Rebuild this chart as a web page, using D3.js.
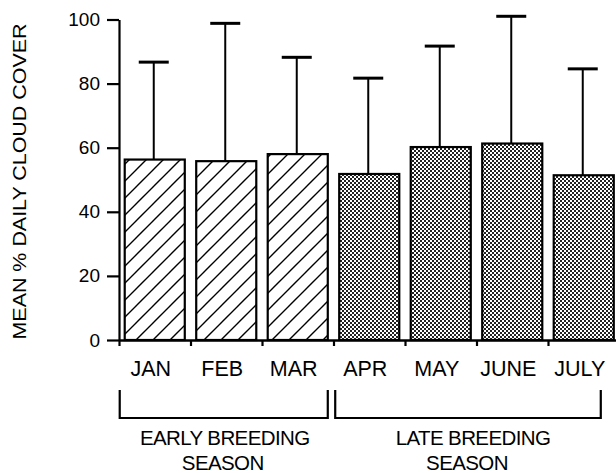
<!DOCTYPE html>
<html>
<head>
<meta charset="utf-8">
<title>Mean daily cloud cover by month</title>
<script src="https://cdn.jsdelivr.net/npm/d3@7"></script>
<style>
    body { margin: 0; background: #fff; }
    svg { display: block; }
    text { font-family: "Liberation Sans", Arial, Helvetica, sans-serif; fill: #000; }
</style>
</head>
<body>
<script>

// values
var months = ["JAN", "FEB", "MAR", "APR", "MAY", "JUNE", "JULY"];
var means = [56.3, 55.8, 58.0, 51.8, 60.2, 61.3, 51.4];
var upper = [86.7, 98.8, 88.2, 81.7, 91.7, 101.0, 84.6];
var season = ["early", "early", "early", "late", "late", "late", "late"];
var yTicks = [0, 20, 40, 60, 80, 100];
var seasonNames = [["EARLY BREEDING", "SEASON"], ["LATE BREEDING", "SEASON"]];
var seasonFirst = ["JAN", "APR"];
var seasonLast = ["MAR", "JULY"];

var width = 616, height = 473;

var svg = d3.select("body").append("svg")
    .attr("width", width)
    .attr("height", height);

var defs = svg.append("defs");

// diagonal hatch for early season
var hatch = defs.append("pattern")
    .attr("id", "hatch")
    .attr("patternUnits", "userSpaceOnUse")
    .attr("width", 17)
    .attr("height", 17);
hatch.append("rect").attr("width", 17).attr("height", 17).attr("fill", "#fff");
hatch.append("path")
    .attr("d", "M-2,19 L19,-2 M-4,4 L4,-4 M13,21 L21,13")
    .attr("stroke", "#000")
    .attr("stroke-width", 1.4);

// stipple for late season
var dots = defs.append("pattern")
    .attr("id", "dots")
    .attr("patternUnits", "userSpaceOnUse")
    .attr("width", 4)
    .attr("height", 4);
dots.append("rect").attr("width", 4).attr("height", 4).attr("fill", "#fff");
dots.append("rect").attr("width", 2).attr("height", 2).attr("fill", "#222");
dots.append("rect").attr("x", 2).attr("y", 2).attr("width", 2).attr("height", 2).attr("fill", "#222");

var x0 = 119, y0 = 340;

var y = d3.scaleLinear().domain([0, 100]).range([y0, 19.5]);

var x = d3.scaleBand()
    .domain(months)
    .range([x0, x0 + 7 * 71.5])
    .paddingInner(0.16)
    .paddingOuter(0.08);

// boundary ticks along the bottom
var xEdge = d3.scaleLinear().domain([0, months.length]).range(x.range());

var g = svg.append("g");

// bars
g.selectAll("rect.bar")
    .data(months)
    .enter().append("rect")
    .attr("class", "bar")
    .attr("x", function(d) { return x(d); })
    .attr("y", function(d, i) { return y(means[i]); })
    .attr("width", x.bandwidth())
    .attr("height", function(d, i) { return y0 - y(means[i]); })
    .attr("fill", function(d, i) { return season[i] == "early" ? "url(#hatch)" : "url(#dots)"; })
    .attr("stroke", "#000")
    .attr("stroke-width", 2.2);

// error bars
g.selectAll("line.err")
    .data(months)
    .enter().append("line")
    .attr("x1", function(d) { return x(d) + x.bandwidth() / 2 - 1; })
    .attr("x2", function(d) { return x(d) + x.bandwidth() / 2 - 1; })
    .attr("y1", function(d, i) { return y(means[i]); })
    .attr("y2", function(d, i) { return y(upper[i]); })
    .attr("stroke", "#000")
    .attr("stroke-width", 2);

g.selectAll("line.cap")
    .data(months)
    .enter().append("line")
    .attr("x1", function(d) { return x(d) + x.bandwidth() / 2 - 16; })
    .attr("x2", function(d) { return x(d) + x.bandwidth() / 2 + 14; })
    .attr("y1", function(d, i) { return y(upper[i]); })
    .attr("y2", function(d, i) { return y(upper[i]); })
    .attr("stroke", "#000")
    .attr("stroke-width", 3);

// y axis
var yAxis = svg.append("g")
    .attr("transform", "translate(" + x0 + ",0)")
    .call(d3.axisLeft(y).tickValues(yTicks).tickSize(12).tickSizeOuter(0).tickPadding(7));
yAxis.select(".domain").attr("stroke-width", 2.2);
yAxis.selectAll(".tick line").attr("stroke-width", 2.2);
yAxis.selectAll(".tick text")
    .attr("font-size", 19)
    .attr("font-family", "'Liberation Sans', Arial, sans-serif");

// x axis line and boundary ticks
var xAxis = svg.append("g")
    .attr("transform", "translate(0," + y0 + ")")
    .call(d3.axisBottom(xEdge).tickValues(d3.range(months.length + 1)).tickSize(6).tickSizeOuter(0).tickFormat(""));
xAxis.select(".domain").attr("stroke-width", 2.5);
xAxis.selectAll(".tick line").attr("stroke-width", 2.2);

// month labels
var xLab = svg.append("g")
    .attr("transform", "translate(-4," + y0 + ")")
    .call(d3.axisBottom(x).tickSize(0).tickPadding(21));
xLab.select(".domain").remove();
xLab.selectAll(".tick text")
    .attr("font-size", 21.5)
    .attr("font-family", "'Liberation Sans', Arial, sans-serif");

// season brackets
var bracketL = [x(seasonFirst[0]) - 5, x(seasonFirst[1]) - 4];
var bracketR = [x(seasonLast[0]) + x.bandwidth(), x(seasonLast[1]) + x.bandwidth() - 13];

svg.selectAll("path.bracket")
    .data(seasonNames)
    .enter().append("path")
    .attr("d", function(d, i) {
        return "M" + bracketL[i] + ",390 V418 H" + bracketR[i] + " V390";
    })
    .attr("fill", "none")
    .attr("stroke", "#000")
    .attr("stroke-width", 2.2);

var seasonLab = svg.selectAll("text.season")
    .data(seasonNames)
    .enter().append("text")
    .attr("class", "season")
    .attr("text-anchor", "middle")
    .attr("font-size", 20.5)
    .attr("letter-spacing", -0.6);

seasonLab.append("tspan")
    .attr("x", function(d, i) { return (bracketL[i] + bracketR[i]) / 2 + (i == 0 ? 1 : 5); })
    .attr("y", 445)
    .text(function(d) { return d[0]; });
seasonLab.append("tspan")
    .attr("x", function(d, i) { return (bracketL[i] + bracketR[i]) / 2 + (i == 0 ? -1 : -1); })
    .attr("y", 470)
    .text(function(d) { return d[1]; });

// y axis title
svg.append("text")
    .attr("transform", "translate(26,181.5) rotate(-90)")
    .attr("text-anchor", "middle")
    .attr("font-size", 17.5)
    .attr("textLength", 316)
    .attr("lengthAdjust", "spacingAndGlyphs")
    .text("MEAN % DAILY CLOUD COVER");

</script>
</body>
</html>
